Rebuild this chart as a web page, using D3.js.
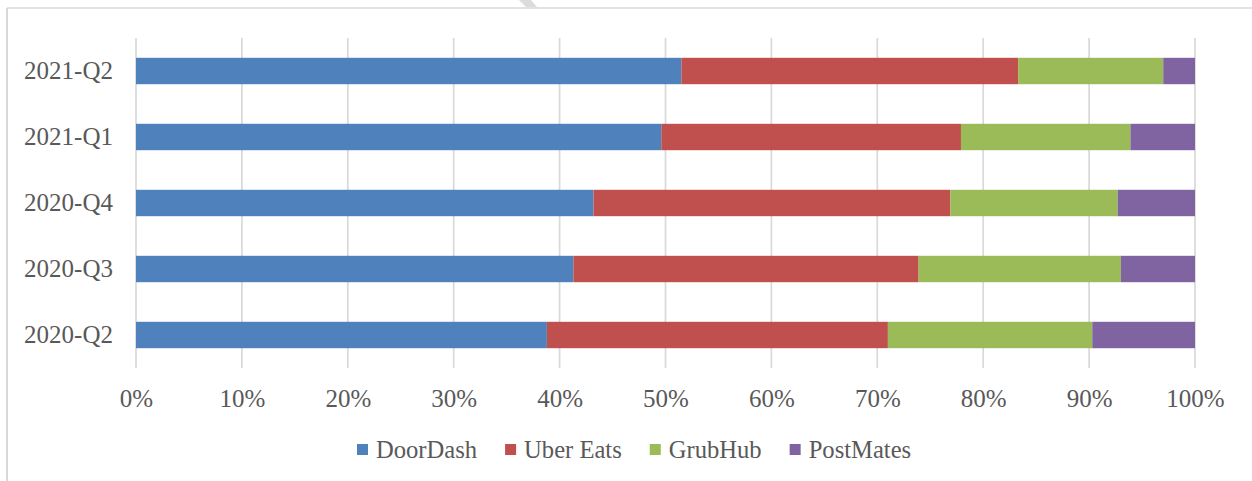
<!DOCTYPE html>
<html>
<head>
<meta charset="utf-8">
<script src="https://cdn.jsdelivr.net/npm/d3@7"></script>
<style>
  html, body { margin: 0; padding: 0; background: #fff; }
  svg { display: block; }
  text { font-family: "Liberation Serif", "DejaVu Serif", serif; fill: #595959; }
</style>
</head>
<body>
<svg id="chart" width="1252" height="481"></svg>
<script>
// Categories (bottom to top as in the picture)
const categories = ["2020-Q2", "2020-Q3", "2020-Q4", "2021-Q1", "2021-Q2"];
const seriesNames = ["DoorDash", "Uber Eats", "GrubHub", "PostMates"];
const doorDash  = [38.8, 41.3, 43.2, 49.6, 51.5];
const uberEats  = [32.2, 32.6, 33.7, 28.3, 31.8];
const grubHub   = [19.3, 19.1, 15.8, 16.0, 13.7];
const postMates = [ 9.7,  7.0,  7.3,  6.1,  3.0];
const tickValues = [0, 0.1, 0.2, 0.3, 0.4, 0.5, 0.6, 0.7, 0.8, 0.9, 1.0];
const colors = ["#4F81BD", "#C0504D", "#9BBB59", "#8064A2"];

const rows = categories.map((c, i) => ({
  cat: c,
  "DoorDash": doorDash[i],
  "Uber Eats": uberEats[i],
  "GrubHub": grubHub[i],
  "PostMates": postMates[i]
}));

const svg = d3.select("#chart");
const W = 1252, H = 481;

// frame (top and left borders visible)
svg.append("line").attr("x1", 7).attr("x2", W).attr("y1", 8).attr("y2", 8)
  .attr("stroke", "#d9d9d9").attr("stroke-width", 1.5);
svg.append("line").attr("x1", 7).attr("x2", 7).attr("y1", 8).attr("y2", H)
  .attr("stroke", "#d9d9d9").attr("stroke-width", 2);
// small grey artifact at the top edge
svg.append("polygon").attr("points", "519,0 531,0 537,7 526,7").attr("fill", "#dcdcdc");

const plot = { left: 136, right: 1195, top: 38, bottom: 368 };

const x = d3.scaleLinear().domain([0, 1]).range([plot.left, plot.right]);
const y = d3.scaleBand().domain(categories.slice().reverse())
  .range([plot.top, plot.bottom]).paddingInner(0.6).paddingOuter(0.3);

const stack = d3.stack().keys(seriesNames).offset(d3.stackOffsetExpand);
const stacked = stack(rows);

// gridlines
svg.append("g").selectAll("line").data(tickValues).join("line")
  .attr("x1", d => x(d)).attr("x2", d => x(d))
  .attr("y1", plot.top).attr("y2", plot.bottom)
  .attr("stroke", "#d9d9d9").attr("stroke-width", 1.7);

// bars
svg.append("g").selectAll("g").data(stacked).join("g")
  .attr("fill", (d, i) => colors[i])
  .selectAll("rect").data(d => d).join("rect")
  .attr("x", d => x(d[0]))
  .attr("width", d => x(d[1]) - x(d[0]))
  .attr("y", d => y(d.data.cat))
  .attr("height", y.bandwidth());

// x axis labels
const xAxis = d3.axisBottom(x).tickValues(tickValues)
  .tickFormat(d3.format(".0%")).tickSize(0).tickPadding(0);
const gx = svg.append("g").attr("transform", `translate(0,${plot.bottom})`).call(xAxis);
gx.select(".domain").remove();
gx.selectAll("text").attr("font-size", 25).attr("dy", null)
  .attr("y", 39).attr("fill", "#595959")
  .style("font-family", '"Liberation Serif", serif');

// y axis labels
const yAxis = d3.axisLeft(y).tickSize(0).tickPadding(23);
const gy = svg.append("g").attr("transform", `translate(${plot.left},0)`).call(yAxis);
gy.select(".domain").remove();
gy.selectAll("text").attr("font-size", 25).attr("dy", "0.33em").attr("fill", "#595959")
  .style("font-family", '"Liberation Serif", serif');

// legend
const legend = svg.append("g");
let lx = 357;
const ly = 450;
seriesNames.forEach((name, i) => {
  legend.append("rect").attr("x", lx).attr("y", ly - 6).attr("width", 11).attr("height", 11)
    .attr("fill", colors[i]);
  const t = legend.append("text").attr("x", lx + 19).attr("y", ly).attr("dy", "0.33em")
    .attr("font-size", 24.6).text(name);
  const w = t.node().getComputedTextLength();
  lx = lx + 19 + w + 28;
});
</script>
</body>
</html>
